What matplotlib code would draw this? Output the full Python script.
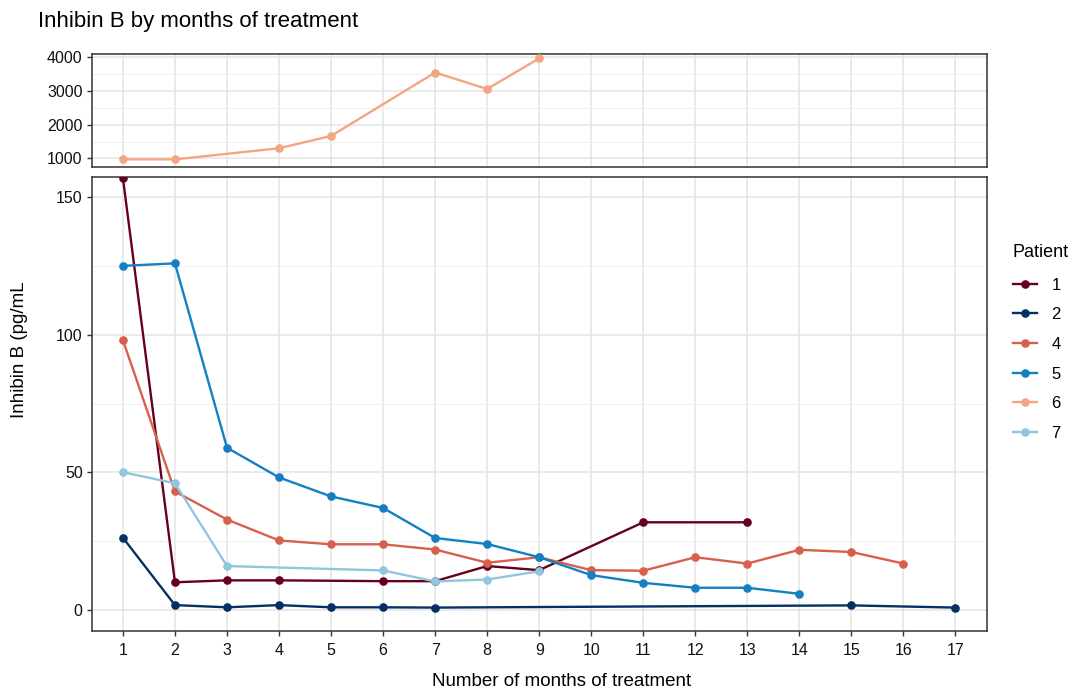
import matplotlib
matplotlib.use("Agg")
import matplotlib.pyplot as plt
from matplotlib.lines import Line2D

plt.rcParams['font.family'] = ['Liberation Sans', 'DejaVu Sans']

# ---- data ----
patients = ["1", "2", "4", "5", "6", "7"]
colors = ["#67001F", "#053061", "#D6604D", "#1380C3", "#F4A582", "#92C5DE"]

p1_months = [1, 2, 3, 4, 6, 7, 8, 9, 11, 13]
p1_vals = [157, 10.1, 10.8, 10.8, 10.5, 10.5, 16.0, 14.5, 31.9, 31.9]
p2_months = [1, 2, 3, 4, 5, 6, 7, 15, 17]
p2_vals = [26.3, 1.8, 1.0, 1.8, 1.0, 1.0, 0.9, 1.7, 0.9]
p4_months = list(range(1, 17))
p4_vals = [98.1, 43.1, 32.9, 25.3, 23.9, 23.9, 22.0, 17.2, 19.2, 14.5, 14.3,
           19.2, 16.9, 21.9, 21.1, 16.9]
p5_months = list(range(1, 15))
p5_vals = [125.1, 126.0, 59.0, 48.2, 41.3, 37.1, 26.2, 24.0, 19.2, 12.7, 9.9,
           8.1, 8.1, 5.9]
p6_months = [1, 2, 4, 5, 7, 8, 9]
p6_vals = [970, 970, 1300, 1665, 3550, 3060, 3970]
p7_months = [1, 2, 3, 6, 7, 8, 9]
p7_vals = [50.1, 46.1, 16.0, 14.4, 10.4, 11.1, 14.1]

months_ticks = list(range(1, 18))
top_yticks = [1000, 2000, 3000, 4000]
top_minor = [1500, 2500, 3500]
bot_yticks = [0, 50, 100, 150]
bot_minor = [25, 75, 125]

series = [
    ("1", p1_months, p1_vals, "bottom"),
    ("2", p2_months, p2_vals, "bottom"),
    ("4", p4_months, p4_vals, "bottom"),
    ("5", p5_months, p5_vals, "bottom"),
    ("6", p6_months, p6_vals, "top"),
    ("7", p7_months, p7_vals, "bottom"),
]

W, H = 1072, 690
fig = plt.figure(figsize=(W / 100, H / 100), dpi=100)

left = 91.7 / W
width = (986.7 - 91.7) / W
ax_top = fig.add_axes([left, 1 - 166.7 / H, width, (166.7 - 54) / H])
ax_bot = fig.add_axes([left, 1 - 630.7 / H, width, (630.7 - 176.7) / H])

grid_major = "#E6E6E6"
border = "#333333"
tickc = "#111111"

for ax in (ax_top, ax_bot):
    ax.set_xlim(0.4, 17.6)
    ax.set_xticks(months_ticks)
    ax.set_axisbelow(True)
    ax.grid(True, which="major", color=grid_major, linewidth=1.2)
    ax.grid(True, which="minor", axis="y", color="#EFEFEF", linewidth=0.7)
    for sp in ax.spines.values():
        sp.set_color(border)
        sp.set_linewidth(1.1)
    ax.tick_params(axis="both", which="major", length=3.5, width=1.0,
                   color=border, labelsize=11.5, labelcolor=tickc, pad=3)
    ax.tick_params(axis="both", which="minor", length=0)

ax_top.set_ylim(752, 4100)
ax_top.set_yticks(top_yticks)
ax_top.set_yticks(top_minor, minor=True)
ax_top.tick_params(axis="x", length=0, labelbottom=False)

ax_bot.set_ylim(-7.5, 157.5)
ax_bot.set_yticks(bot_yticks)
ax_bot.set_yticks(bot_minor, minor=True)
ax_bot.set_xticklabels([str(m) for m in months_ticks])
ax_bot.tick_params(axis="x", pad=5)

handles = []
for (name, xs, ys, panel), col in zip(series, colors):
    ax = ax_top if panel == "top" else ax_bot
    ax.plot(xs, ys, color=col, linewidth=1.7, marker="o", markersize=6.2,
            markeredgewidth=0, zorder=3)
    handles.append(Line2D([], [], color=col, linewidth=1.7, marker="o",
                          markersize=6.2, markeredgewidth=0))

fig.text(38 / W, 1 - 22 / H, "Inhibin B by months of treatment",
         fontsize=16, ha="left", va="center", color="#000000")
fig.text(562 / W, 1 - 682 / H, "Number of months of treatment",
         fontsize=13.5, ha="center", va="center", color="#000000")
fig.text(20 / W, 1 - 350 / H, "Inhibin B (pg/mL", fontsize=13.5,
         rotation=90, ha="center", va="center", color="#000000")

leg = fig.legend(handles, patients, loc="upper left",
                 bbox_to_anchor=(1013 / W, 1 - 244 / H), frameon=False,
                 title="Patient", fontsize=12, title_fontsize=13,
                 handlelength=1.45, handletextpad=0.85, labelspacing=0.88,
                 borderaxespad=0, borderpad=0)
leg._legend_box.align = "left"
leg._legend_box.sep = 12

fig.savefig("out.png", dpi=100, facecolor="white")
